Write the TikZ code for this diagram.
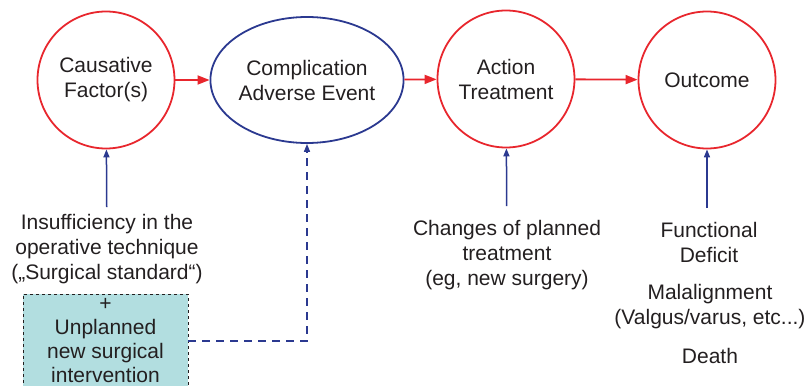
\documentclass[tikz,border=0pt]{standalone}
\usepackage{fontspec}
\setmainfont{Liberation Sans}
\usepackage{tikz}
\usetikzlibrary{arrows.meta,positioning,shapes.geometric}
\definecolor{evred}{RGB}{232,38,45}
\definecolor{evblue}{RGB}{43,57,144}
\definecolor{evteal}{RGB}{178,222,224}
\definecolor{evtext}{RGB}{35,31,32}
\begin{document}
\begin{tikzpicture}[
  x=1pt, y=-1pt,
  font=\fontsize{21}{25}\selectfont, text=evtext,
  stage/.style={circle, draw=evred, line width=1.8pt, minimum size=137pt, inner sep=0pt, align=center},
  event/.style={ellipse, draw=evblue, line width=1.8pt, minimum width=170pt, minimum height=126pt, inner sep=0pt, align=center},
  note/.style={inner sep=0pt, align=center},
  extra/.style={draw=evtext, dashed, line width=0.9pt, fill=evteal, minimum width=165pt, minimum height=94pt, inner sep=0pt, align=center, font=\fontsize{21}{24}\selectfont},
  redarrow/.style={-{Triangle[length=12pt,width=9pt]}, draw=evred, line width=1.8pt},
  bluearrow/.style={-{Triangle[length=8pt,width=6pt]}, draw=evblue, line width=1.5pt},
  bluedash/.style={bluearrow, dashed, dash pattern=on 8pt off 6pt}
]
\clip (0,0) rectangle (807,386);
\node[stage] (cause) at (106,80) {Causative\\Factor(s)};
\node[event] (compl) at (307,80) {Complication\\Adverse Event};
\node[stage] (action) at (506,79) {Action\\Treatment};
\node[stage] (outcome) at (707,80) {Outcome};

\node[note] (insuff) at (107,249) {Insufficiency in the\\operative technique\\(„Surgical standard“)};
\node[extra] (unplan) at (105.5,341) {+\\Unplanned\\new surgical\\intervention};
\node[note] (change) at (507,255) {Changes of planned\\treatment\\(eg, new surgery)};
\node[note] (funct) at (709,242.5) {Functional\\Deficit};
\node[note] (malal) at (710,306.5) {Malalignment\\(Valgus/varus, etc...)};
\node[note] (death) at (710,356) {Death};

\draw[redarrow] (cause) -- (compl);
\draw[redarrow] (compl) -- (action);
\draw[redarrow] (action) -- (outcome);

\draw[bluearrow, shorten <=7pt] (insuff) -- (cause);
\draw[bluearrow, shorten <=14pt] (change) -- (action);
\draw[bluearrow, shorten <=14pt] (funct.north -| outcome) -- (outcome);
\draw[bluedash] (unplan.east) -| (compl.south);
\end{tikzpicture}
\end{document}
